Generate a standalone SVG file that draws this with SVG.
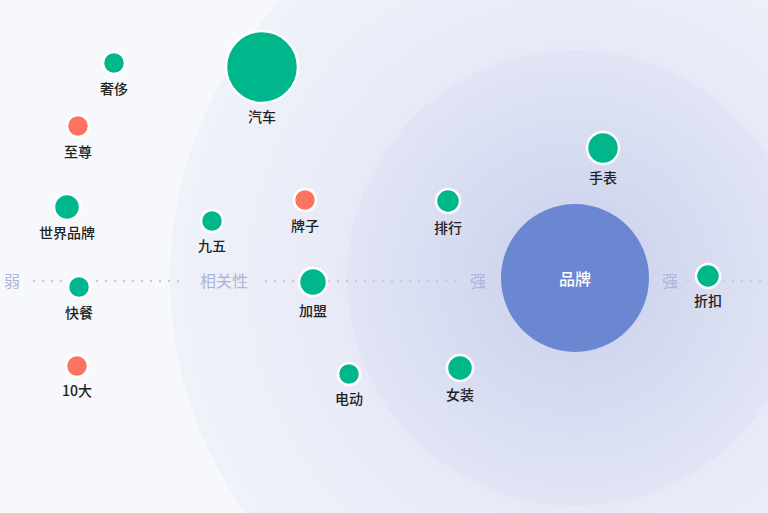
<svg xmlns="http://www.w3.org/2000/svg" width="768" height="513" viewBox="0 0 768 513">
<defs>
<radialGradient id="g1" cx="575" cy="278" r="405" gradientUnits="userSpaceOnUse"><stop offset="0.5" stop-color="#e6e9f6"/><stop offset="1" stop-color="#f0f2fa"/></radialGradient>
<radialGradient id="g2" cx="575" cy="278" r="228" gradientUnits="userSpaceOnUse"><stop offset="0.3" stop-color="#d0d6ee"/><stop offset="1" stop-color="#e1e5f5"/></radialGradient>
</defs>
<style>
.n{stroke:#fff;stroke-width:2.5}
.g{fill:#00b68b}.r{fill:#fb7461}
text{font-family:"Noto Sans CJK SC","Liberation Sans",sans-serif;font-size:14px;font-weight:500;text-anchor:middle;fill:#222}
.ax{fill:#aab4dc;font-size:16px;font-weight:400}
</style>
<rect width="768" height="513" fill="#f7f8fc"/>
<circle cx="575" cy="278" r="405" fill="url(#g1)"/>
<circle cx="575" cy="278" r="228" fill="url(#g2)"/>
<g id="connectors" stroke="#c4cbe6" stroke-width="2.5" stroke-dasharray="0 9" stroke-linecap="round">
<line x1="34" y1="281" x2="186" y2="281"/>
<line x1="266" y1="281" x2="462" y2="281"/>
<line x1="688" y1="281" x2="768" y2="281"/>
</g>
<text class="ax" x="12" y="287">弱</text>
<text class="ax" x="224" y="287">相关性</text>
<text class="ax" x="478" y="287">强</text>
<text class="ax" x="670" y="287">强</text>
<g id="n-shechi"><circle class="n g" cx="114" cy="63" r="11"/><text x="114" y="94">奢侈</text></g>
<g id="n-zhizun"><circle class="n r" cx="78" cy="126" r="11"/><text x="78" y="157">至尊</text></g>
<g id="n-shijie"><circle class="n g" cx="67" cy="207" r="13"/><text x="67" y="238">世界品牌</text></g>
<g id="n-kuaican"><circle class="n g" cx="79" cy="287" r="11"/><text x="79" y="318">快餐</text></g>
<g id="n-10da"><circle class="n r" cx="77" cy="366" r="11"/><text x="77" y="396">10大</text></g>
<g id="n-qiche"><circle class="n g" cx="262" cy="67" r="36"/><text x="262" y="122">汽车</text></g>
<g id="n-jiuwu"><circle class="n g" cx="212" cy="221" r="11"/><text x="212" y="251">九五</text></g>
<g id="n-paizi"><circle class="n r" cx="305" cy="200" r="11"/><text x="305" y="231">牌子</text></g>
<g id="n-jiameng"><circle class="n g" cx="313" cy="282" r="14"/><text x="313" y="316">加盟</text></g>
<g id="n-diandong"><circle class="n g" cx="349" cy="374" r="11"/><text x="349" y="404">电动</text></g>
<g id="n-paihang"><circle class="n g" cx="448" cy="201" r="12"/><text x="448" y="233">排行</text></g>
<g id="n-nvzhuang"><circle class="n g" cx="460" cy="368" r="13"/><text x="460" y="400">女装</text></g>
<g id="n-shoubiao"><circle class="n g" cx="603" cy="148" r="16"/><text x="603" y="183">手表</text></g>
<g id="n-pinpai"><circle cx="575" cy="278" r="74" fill="#6b87d2"/><text x="575" y="285" style="fill:#fff;font-size:16px">品牌</text></g>
<g id="n-zhekou"><circle class="n g" cx="708" cy="276" r="12"/><text x="708" y="306">折扣</text></g>
</svg>
